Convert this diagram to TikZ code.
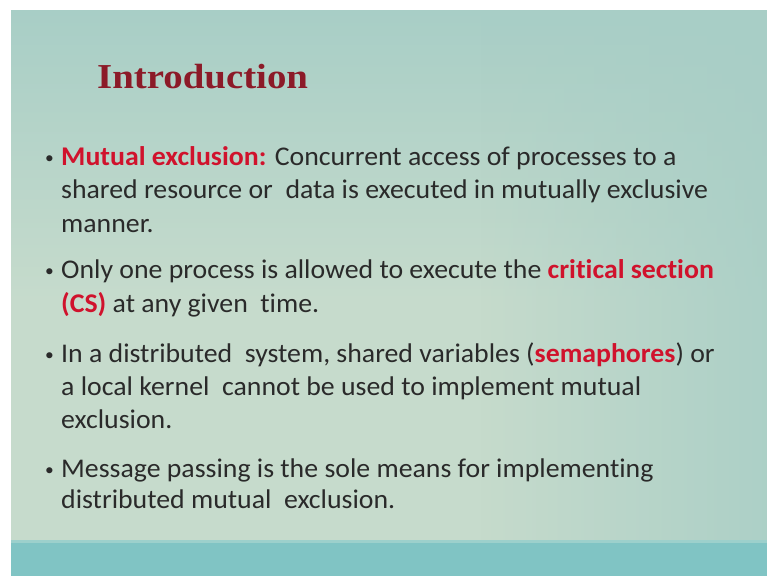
\documentclass[tikz,border=0pt]{standalone}
\usepackage{fontspec}
\setmainfont{Carlito}[Ligatures={NoCommon,NoRequired,NoContextual},FakeStretch=1.03]
\newfontfamily\titlefont[FakeStretch=1.11]{Liberation Serif}
\usetikzlibrary{fadings}
\definecolor{slidetop}{HTML}{A8CEC6}
\definecolor{slidemid}{HTML}{C6DBCC}
\definecolor{slidebar}{HTML}{80C4C4}
\definecolor{barhi}{HTML}{9CD0CC}
\definecolor{titlered}{HTML}{8C1A28}
\definecolor{hired}{HTML}{D0122C}
\definecolor{bodytext}{HTML}{2A2A2A}
\begin{document}
\begin{tikzpicture}[x=1pt,y=-1pt,
  line/.style={anchor=base west,inner sep=0pt,text=bodytext,font=\fontsize{27}{32}\selectfont},
  dot/.style={anchor=base west,inner sep=0pt,text=bodytext,font=\fontsize{17}{20}\selectfont}]
\useasboundingbox (0,0) rectangle (767,578);
\fill[white] (0,0) rectangle (767,578);
\shade[top color=slidetop,bottom color=slidemid] (11,11) rectangle (767,300);
\fill[slidemid] (11,299) rectangle (767,541);
\fill[slidetop,path fading=west,opacity=0.85] (480,11) rectangle (767,541);
\fill[slidebar] (11,540) rectangle (767,576);
\fill[barhi] (11,540) rectangle (767,543);
\node[anchor=base west,inner sep=0pt,text=titlered,font=\titlefont\bfseries\fontsize{35}{40}\selectfont] (title) at (97,88) {Introduction};
\newcommand\hr[1]{\textcolor{hired}{\bfseries #1}}
\node[dot] (b1) at (45,163) {•};
\node[line] (l1) at (61,165) {\hr{Mutual exclusion:} Concurrent access of processes to a};
\node[line] (l2) at (61,198) {shared resource or~ data is executed in mutually exclusive};
\node[line] (l3) at (61,232) {manner.};
\node[dot] (b2) at (45,276) {•};
\node[line] (l4) at (61,278) {Only one process is allowed to execute the \hr{critical section}};
\node[line] (l5) at (61,312) {\hr{(CS)} at any given~ time.};
\node[dot] (b3) at (45,360) {•};
\node[line] (l6) at (61,362) {In a distributed~ system, shared variables (\hr{semaphores}) or};
\node[line] (l7) at (61,395) {a local kernel~ cannot be used to implement mutual};
\node[line] (l8) at (61,428) {exclusion.};
\node[dot] (b4) at (45,475) {•};
\node[line] (l9) at (61,477) {Message passing is the sole means for implementing};
\node[line] (l10) at (61,508) {distributed mutual~ exclusion.};
\end{tikzpicture}
\end{document}
